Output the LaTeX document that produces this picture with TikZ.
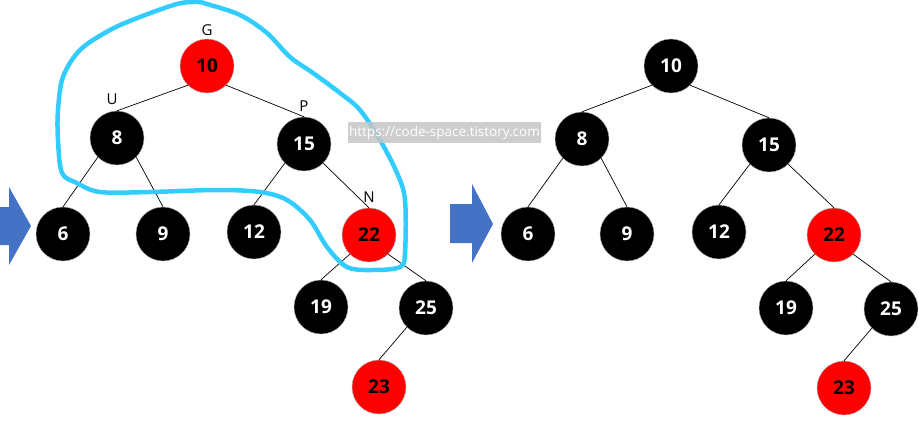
\documentclass[tikz,border=0pt]{standalone}
\usepackage{fontspec}
\setmainfont{Open Sans}
\usetikzlibrary{positioning}
\definecolor{rbred}{HTML}{FF0000}
\definecolor{marker}{HTML}{33CCFF}
\definecolor{arrowblue}{HTML}{4472C4}

\begin{document}
\begin{tikzpicture}[x=1pt,y=-1pt,
  blk/.style={circle,draw=gray!60,fill=black,text=white,minimum size=54pt,inner sep=0pt,font=\bfseries\fontsize{19}{19}\selectfont},
  rnode/.style={blk,fill=rbred,text=black},
  tag/.style={font=\fontsize{15}{15}\selectfont,inner sep=0pt},
  link/.style={line width=0.7pt},
  on grid]
\useasboundingbox (0,0) rectangle (919,428);

% before
\node[rnode] (g) at (207,66) {10};
\node[blk] (u) at (117,138) {8};
\node[blk] (p) at (304,144) {15};
\node[blk] (a6) at (63,234) {6};
\node[blk] (a9) at (163,234) {9};
\node[blk] (a12) at (254,232) {12};
\node[rnode] (n) at (369,235) {22};
\node[blk] (a19) at (321,307) {19};
\node[blk] (a25) at (426,308) {25};
\node[rnode] (a23) at (379,387) {23};
\node[tag,above=36pt of g] (gtag) {G};
\node[tag,above=39pt of u,xshift=-5pt] (utag) {U};
\node[tag,above=38pt of p] (ptag) {P};
\node[tag,above=38pt of n] (ntag) {N};
\draw[link] (g.south west)--(u.north); \draw[link] (g.south east)--(p.north);
\draw[link] (u.south west)--(a6.north); \draw[link] (u.south east)--(a9.north);
\draw[link] (p.south west)--(a12.north); \draw[link] (p.south east)--(n.north);
\draw[link] (n.south west)--(a19.north); \draw[link] (n.south east)--(a25.north);
\draw[link] (a25.south west)--(a23.north);

% after
\node[blk] (b10) at (671,66) {10};
\node[blk] (b8) at (582,139) {8};
\node[blk] (b15) at (769,145) {15};
\node[blk] (b6) at (528,234) {6};
\node[blk] (b9) at (627,234) {9};
\node[blk] (b12) at (719,232) {12};
\node[rnode] (b22) at (834,235) {22};
\node[blk] (b19) at (786,308) {19};
\node[blk] (b25) at (891,309) {25};
\node[rnode] (b23) at (844,388) {23};
\draw[link] (b10.south west)--(b8.north); \draw[link] (b10.south east)--(b15.north);
\draw[link] (b8.south west)--(b6.north); \draw[link] (b8.south east)--(b9.north);
\draw[link] (b15.south west)--(b12.north); \draw[link] (b15.south east)--(b22.north);
\draw[link] (b22.south west)--(b19.north); \draw[link] (b22.south east)--(b25.north);
\draw[link] (b25.south west)--(b23.north);

% arrows
\fill[arrowblue] (0,207)--(9,207)--(9,187)--(31,226)--(9,265)--(9,245)--(0,245)--cycle;
\fill[arrowblue] (450,204)--(472,204)--(472,184)--(493,224)--(472,263)--(472,243)--(450,243)--cycle;

% marker loop
\draw[marker,line width=4.5pt,line join=round] plot[smooth cycle,tension=0.55] coordinates {
  (177,4) (140,17) (110,30) (80,50) (63,77) (58,110) (58,140) (62,173) (77,183)
  (100,192) (150,192) (217,190) (260,192) (287,200) (310,220) (327,247) (347,267)
  (373,270) (400,267) (405,253) (405,200) (397,173) (380,140) (360,110) (340,93)
  (313,73) (290,57) (267,33) (240,15) (207,4) (197,2)};

\node[fill=gray!45,fill opacity=0.85,text opacity=1,text=white,minimum width=193pt,minimum height=21pt,inner sep=0pt,font=\fontsize{13.5}{13.5}\selectfont] (wm) at (444.5,132.5) {https://code-space.tistory.com};
\end{tikzpicture}
\end{document}
